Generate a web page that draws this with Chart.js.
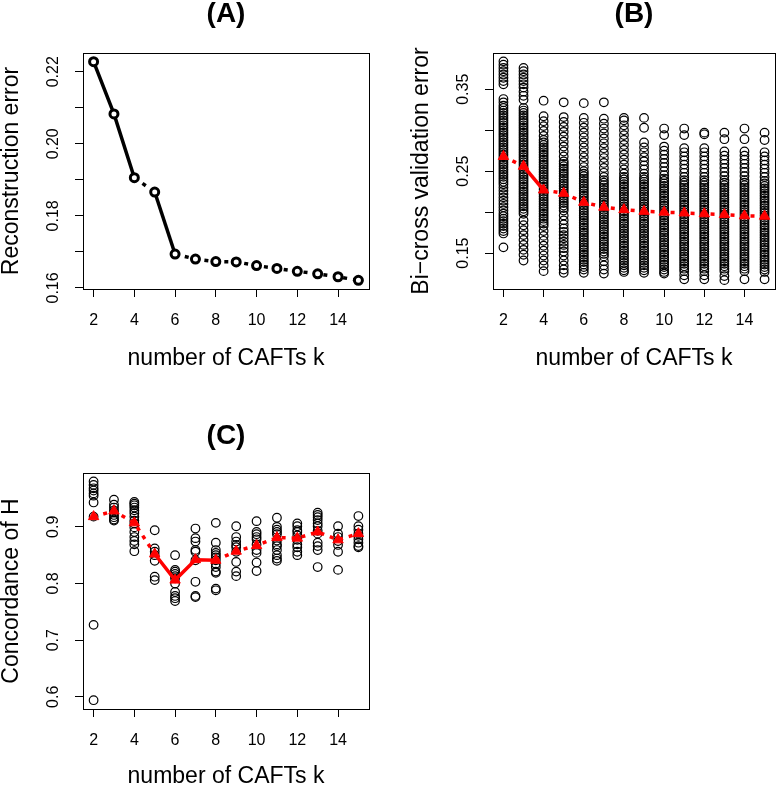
<!DOCTYPE html>
<html>
<head>
<meta charset="utf-8">
<script src="https://cdn.jsdelivr.net/npm/chart.js@4"></script>
<style>
  body { margin: 0; background: #fff; }
  canvas { position: absolute; }
</style>
</head>
<body>
<canvas id="chartA" width="391" height="394" style="left:0;top:0"></canvas>
<canvas id="chartB" width="391" height="394" style="left:391px;top:0"></canvas>
<canvas id="chartC" width="391" height="394" style="left:0;top:394px"></canvas>
<script>
var kValues = [2, 3, 4, 5, 6, 7, 8, 9, 10, 11, 12, 13, 14, 15];
var xTicks = [2, 4, 6, 8, 10, 12, 14];

// (A) reconstruction error
var reconError = [0.2228, 0.2083, 0.1906, 0.1866, 0.1694, 0.1680, 0.1673, 0.1672, 0.1662, 0.1654, 0.1646, 0.1639, 0.1631, 0.1621];
var aYTicks = [0.16, 0.17, 0.18, 0.19, 0.20, 0.21, 0.22];
var aYLabels = ['0.16', '', '0.18', '', '0.20', '', '0.22'];

// (B) bi-cross validation error, one list per k
var bcvMean = [0.268, 0.256, 0.227, 0.223, 0.212, 0.206, 0.203, 0.201, 0.200, 0.199, 0.198, 0.197, 0.1955, 0.195];
var bcvByK = [
  [0.384, 0.380, 0.376, 0.372, 0.368, 0.364, 0.360, 0.356, 0.338, 0.334, 0.330, 0.327, 0.324, 0.321, 0.318, 0.315, 0.312, 0.309, 0.306, 0.303, 0.300, 0.297, 0.294, 0.291, 0.288, 0.285, 0.282, 0.279, 0.276, 0.273, 0.270, 0.267, 0.264, 0.261, 0.258, 0.255, 0.252, 0.249, 0.246, 0.243, 0.240, 0.237, 0.234, 0.230, 0.226, 0.222, 0.218, 0.214, 0.210, 0.206, 0.202, 0.198, 0.195, 0.192, 0.189, 0.186, 0.183, 0.180, 0.177, 0.174, 0.157],
  [0.376, 0.372, 0.368, 0.364, 0.360, 0.356, 0.352, 0.347, 0.342, 0.337, 0.327, 0.324, 0.321, 0.318, 0.315, 0.312, 0.309, 0.306, 0.303, 0.300, 0.297, 0.294, 0.291, 0.288, 0.285, 0.282, 0.279, 0.276, 0.273, 0.270, 0.267, 0.264, 0.261, 0.258, 0.255, 0.252, 0.249, 0.246, 0.243, 0.240, 0.237, 0.234, 0.231, 0.228, 0.225, 0.222, 0.219, 0.216, 0.213, 0.210, 0.207, 0.204, 0.201, 0.198, 0.190, 0.184, 0.178, 0.172, 0.166, 0.160, 0.154, 0.148, 0.141],
  [0.336, 0.317, 0.311, 0.305, 0.299, 0.293, 0.288, 0.285, 0.282, 0.279, 0.276, 0.273, 0.270, 0.267, 0.264, 0.261, 0.258, 0.255, 0.252, 0.249, 0.246, 0.243, 0.240, 0.237, 0.234, 0.231, 0.228, 0.225, 0.222, 0.219, 0.216, 0.213, 0.210, 0.207, 0.204, 0.201, 0.198, 0.195, 0.192, 0.189, 0.186, 0.183, 0.177, 0.171, 0.165, 0.159, 0.153, 0.147, 0.141, 0.135, 0.128],
  [0.334, 0.316, 0.310, 0.304, 0.298, 0.292, 0.286, 0.280, 0.274, 0.268, 0.262, 0.259, 0.256, 0.253, 0.250, 0.247, 0.244, 0.241, 0.238, 0.235, 0.232, 0.229, 0.226, 0.223, 0.220, 0.217, 0.214, 0.211, 0.208, 0.205, 0.202, 0.196, 0.190, 0.185, 0.180, 0.176, 0.172, 0.168, 0.164, 0.160, 0.156, 0.152, 0.147, 0.141, 0.135, 0.130, 0.126],
  [0.333, 0.315, 0.309, 0.303, 0.297, 0.291, 0.285, 0.279, 0.273, 0.267, 0.261, 0.255, 0.250, 0.247, 0.244, 0.241, 0.238, 0.235, 0.232, 0.229, 0.226, 0.223, 0.220, 0.217, 0.214, 0.211, 0.208, 0.205, 0.202, 0.199, 0.196, 0.193, 0.190, 0.187, 0.184, 0.181, 0.178, 0.175, 0.172, 0.169, 0.166, 0.163, 0.160, 0.157, 0.154, 0.151, 0.148, 0.145, 0.142, 0.139, 0.136, 0.133, 0.130, 0.126],
  [0.334, 0.314, 0.308, 0.302, 0.296, 0.290, 0.284, 0.278, 0.272, 0.266, 0.260, 0.254, 0.248, 0.243, 0.239, 0.236, 0.233, 0.230, 0.227, 0.224, 0.221, 0.218, 0.215, 0.212, 0.209, 0.206, 0.203, 0.200, 0.197, 0.194, 0.191, 0.188, 0.185, 0.182, 0.179, 0.176, 0.173, 0.170, 0.167, 0.164, 0.161, 0.158, 0.155, 0.152, 0.149, 0.146, 0.140, 0.135, 0.130, 0.125],
  [0.315, 0.312, 0.306, 0.300, 0.294, 0.288, 0.282, 0.276, 0.270, 0.264, 0.258, 0.252, 0.247, 0.243, 0.240, 0.237, 0.234, 0.231, 0.228, 0.225, 0.222, 0.219, 0.216, 0.213, 0.210, 0.207, 0.204, 0.201, 0.198, 0.195, 0.192, 0.189, 0.186, 0.183, 0.180, 0.177, 0.174, 0.171, 0.168, 0.165, 0.162, 0.159, 0.156, 0.153, 0.150, 0.147, 0.144, 0.141, 0.138, 0.135, 0.132, 0.129, 0.127],
  [0.315, 0.303, 0.285, 0.279, 0.273, 0.267, 0.262, 0.257, 0.252, 0.247, 0.243, 0.240, 0.237, 0.234, 0.231, 0.228, 0.225, 0.222, 0.219, 0.216, 0.213, 0.210, 0.207, 0.204, 0.201, 0.198, 0.195, 0.192, 0.189, 0.186, 0.183, 0.180, 0.177, 0.174, 0.171, 0.168, 0.165, 0.162, 0.159, 0.156, 0.153, 0.150, 0.147, 0.144, 0.141, 0.138, 0.135, 0.132, 0.129, 0.126],
  [0.302, 0.294, 0.280, 0.275, 0.270, 0.265, 0.260, 0.255, 0.250, 0.245, 0.241, 0.238, 0.235, 0.232, 0.229, 0.226, 0.223, 0.220, 0.217, 0.214, 0.211, 0.208, 0.205, 0.202, 0.199, 0.196, 0.193, 0.190, 0.187, 0.184, 0.181, 0.178, 0.175, 0.172, 0.169, 0.166, 0.163, 0.160, 0.157, 0.154, 0.151, 0.148, 0.145, 0.142, 0.139, 0.136, 0.133, 0.130, 0.127, 0.125],
  [0.302, 0.294, 0.278, 0.273, 0.268, 0.263, 0.258, 0.253, 0.248, 0.243, 0.239, 0.236, 0.233, 0.230, 0.227, 0.224, 0.221, 0.218, 0.215, 0.212, 0.209, 0.206, 0.203, 0.200, 0.197, 0.194, 0.191, 0.188, 0.185, 0.182, 0.179, 0.176, 0.173, 0.170, 0.167, 0.164, 0.161, 0.158, 0.155, 0.152, 0.149, 0.146, 0.143, 0.140, 0.137, 0.134, 0.131, 0.128, 0.123, 0.118],
  [0.297, 0.295, 0.278, 0.273, 0.268, 0.263, 0.258, 0.253, 0.248, 0.243, 0.239, 0.236, 0.233, 0.230, 0.227, 0.224, 0.221, 0.218, 0.215, 0.212, 0.209, 0.206, 0.203, 0.200, 0.197, 0.194, 0.191, 0.188, 0.185, 0.182, 0.179, 0.176, 0.173, 0.170, 0.167, 0.164, 0.161, 0.158, 0.155, 0.152, 0.149, 0.146, 0.143, 0.140, 0.137, 0.134, 0.131, 0.128, 0.123, 0.118],
  [0.297, 0.289, 0.274, 0.269, 0.264, 0.259, 0.254, 0.249, 0.244, 0.239, 0.236, 0.233, 0.230, 0.227, 0.224, 0.221, 0.218, 0.215, 0.212, 0.209, 0.206, 0.203, 0.200, 0.197, 0.194, 0.191, 0.188, 0.185, 0.182, 0.179, 0.176, 0.173, 0.170, 0.167, 0.164, 0.161, 0.158, 0.155, 0.152, 0.149, 0.146, 0.143, 0.140, 0.137, 0.134, 0.131, 0.128, 0.122, 0.117],
  [0.302, 0.289, 0.274, 0.269, 0.264, 0.259, 0.254, 0.249, 0.244, 0.239, 0.236, 0.233, 0.230, 0.227, 0.224, 0.221, 0.218, 0.215, 0.212, 0.209, 0.206, 0.203, 0.200, 0.197, 0.194, 0.191, 0.188, 0.185, 0.182, 0.179, 0.176, 0.173, 0.170, 0.167, 0.164, 0.161, 0.158, 0.155, 0.152, 0.149, 0.146, 0.143, 0.140, 0.137, 0.134, 0.131, 0.128, 0.118],
  [0.297, 0.288, 0.273, 0.268, 0.263, 0.258, 0.253, 0.248, 0.243, 0.238, 0.235, 0.232, 0.229, 0.226, 0.223, 0.220, 0.217, 0.214, 0.211, 0.208, 0.205, 0.202, 0.199, 0.196, 0.193, 0.190, 0.187, 0.184, 0.181, 0.178, 0.175, 0.172, 0.169, 0.166, 0.163, 0.160, 0.157, 0.154, 0.151, 0.148, 0.145, 0.142, 0.139, 0.136, 0.133, 0.130, 0.127, 0.118]
];
var bYTicks = [0.15, 0.20, 0.25, 0.30, 0.35];
var bYLabels = ['0.15', '', '0.25', '', '0.35'];

// (C) concordance of H, one list per k
var concMean = [0.918, 0.928, 0.907, 0.852, 0.806, 0.842, 0.841, 0.857, 0.867, 0.881, 0.880, 0.891, 0.877, 0.888];
var concByK = [
  [0.980, 0.974, 0.968, 0.964, 0.959, 0.955, 0.943, 0.918, 0.727, 0.594],
  [0.948, 0.939, 0.934, 0.929, 0.925, 0.921, 0.917, 0.913, 0.911],
  [0.944, 0.941, 0.938, 0.934, 0.929, 0.924, 0.918, 0.911, 0.906, 0.899, 0.891, 0.882, 0.875, 0.869, 0.857],
  [0.894, 0.862, 0.856, 0.850, 0.840, 0.812, 0.806],
  [0.850, 0.824, 0.821, 0.817, 0.813, 0.809, 0.800, 0.785, 0.778, 0.774, 0.769],
  [0.897, 0.880, 0.874, 0.859, 0.856, 0.841, 0.803, 0.778, 0.776],
  [0.907, 0.872, 0.859, 0.854, 0.850, 0.846, 0.841, 0.835, 0.829, 0.821, 0.819, 0.791, 0.788],
  [0.901, 0.882, 0.874, 0.868, 0.864, 0.856, 0.838, 0.821, 0.813],
  [0.910, 0.891, 0.887, 0.882, 0.878, 0.869, 0.859, 0.854, 0.837, 0.822],
  [0.916, 0.900, 0.895, 0.891, 0.887, 0.876, 0.869, 0.866, 0.859, 0.850, 0.844, 0.840],
  [0.906, 0.901, 0.894, 0.891, 0.885, 0.877, 0.869, 0.864, 0.856, 0.850],
  [0.925, 0.921, 0.917, 0.912, 0.906, 0.901, 0.893, 0.888, 0.872, 0.866, 0.859, 0.829],
  [0.901, 0.888, 0.882, 0.875, 0.868, 0.856, 0.824],
  [0.919, 0.901, 0.895, 0.888, 0.884, 0.878, 0.872, 0.866, 0.864]
];
var cYTicks = [0.6, 0.7, 0.8, 0.9];
var cYLabels = ['0.6', '0.7', '0.8', '0.9'];

// segments (by starting point index) drawn solid instead of dotted
var solidA = [0, 1, 3];
var solidB = [1];
var solidC = [3, 4, 5];

var FONT = "'Liberation Sans', Arial, Helvetica, sans-serif";
Chart.defaults.font.family = FONT;
Chart.defaults.color = '#000';

// R style box round the plot and vertical y tick labels
var rBox = {
  id: 'rBox',
  afterDraw: function(chart, args, opts) {
    var ctx = chart.ctx, a = chart.chartArea, y = chart.scales.y;
    ctx.save();
    ctx.strokeStyle = '#000';
    ctx.lineWidth = 1;
    ctx.strokeRect(Math.round(a.left) + 0.5, Math.round(a.top) + 0.5,
                   Math.round(a.right - a.left), Math.round(a.bottom - a.top));
    ctx.font = '16px ' + FONT;
    ctx.fillStyle = '#000';
    ctx.textAlign = 'center';
    ctx.textBaseline = 'middle';
    opts.ticks.forEach(function(v, i) {
      if (!opts.labels[i]) return;
      ctx.save();
      ctx.translate(a.left - opts.offset, y.getPixelForValue(v));
      ctx.rotate(-Math.PI / 2);
      ctx.fillText(opts.labels[i], 0, 0);
      ctx.restore();
    });
    ctx.restore();
  }
};

function points(values) {
  return kValues.map(function(k, i) { return { x: k, y: values[i] }; });
}

function cloud(cols) {
  var out = [];
  cols.forEach(function(col, i) {
    col.forEach(function(v) { out.push({ x: kValues[i], y: v }); });
  });
  return out;
}

function dashFor(solid) {
  return function(ctx) { return solid.indexOf(ctx.p0DataIndex) >= 0 ? [] : undefined; };
}

function meanLine(values, solid) {
  return {
    data: points(values), showLine: true, order: 0,
    borderColor: '#ff0000', borderWidth: 3.5, borderDash: [4, 6],
    pointStyle: 'triangle', pointRadius: 6,
    pointBackgroundColor: '#ff0000', pointBorderColor: '#ff0000', pointBorderWidth: 1,
    segment: { borderDash: dashFor(solid) }
  };
}

function circles(cols) {
  return {
    data: cloud(cols), order: 1,
    pointRadius: 4.3, pointBorderWidth: 1.2,
    pointBorderColor: '#000', pointBackgroundColor: 'rgba(0,0,0,0)'
  };
}

function makeChart(id, p) {
  var grid = { drawOnChartArea: false, drawTicks: true, tickLength: 8, color: '#000', lineWidth: 1 };
  return new Chart(document.getElementById(id), {
    type: 'scatter',
    data: { datasets: p.datasets },
    plugins: [rBox],
    options: {
      responsive: false,
      animation: false,
      events: [],
      layout: { padding: { left: 0, right: p.padRight, top: 0, bottom: 0 } },
      plugins: {
        legend: { display: false },
        tooltip: { enabled: false },
        title: {
          display: true, text: p.title, fullSize: false, color: '#000',
          font: { size: 28, weight: 'bold', lineHeight: 1 },
          padding: { top: p.titleTop, bottom: p.titleBottom }
        },
        rBox: { ticks: p.yTicks, labels: p.yLabels, offset: 29 }
      },
      scales: {
        x: {
          type: 'linear', min: 1.48, max: 15.52,
          afterBuildTicks: function(s) { s.ticks = xTicks.map(function(v) { return { value: v }; }); },
          afterFit: function(s) { s.height = p.xHeight; },
          grid: grid,
          border: { display: false },
          ticks: { font: { size: 16 }, padding: 14, color: '#000', maxRotation: 0, autoSkip: false },
          title: {
            display: true, text: 'number of CAFTs k', color: '#000',
            font: { size: 23, lineHeight: 1 }, padding: { top: 0, bottom: p.xTitleBottom }
          }
        },
        y: {
          type: 'linear', min: p.yMin, max: p.yMax,
          afterBuildTicks: function(s) { s.ticks = p.yTicks.map(function(v) { return { value: v }; }); },
          afterFit: function(s) { s.width = p.yWidth; },
          grid: grid,
          border: { display: false },
          ticks: { display: false },
          title: {
            display: true, text: p.yTitle, color: '#000',
            font: { size: 23, lineHeight: 1 }, padding: { top: p.yTitlePad, bottom: 0 }
          }
        }
      }
    }
  });
}

var chartA = makeChart('chartA', {
  title: '(A)', yTitle: 'Reconstruction error',
  yMin: 0.1597, yMax: 0.2252, yTicks: aYTicks, yLabels: aYLabels,
  titleTop: 0, titleBottom: 25, xHeight: 105, xTitleBottom: 24,
  yWidth: 83, yTitlePad: 0.5, padRight: 22,
  datasets: [{
    data: points(reconError), showLine: true,
    borderColor: '#000', borderWidth: 3.5, borderDash: [4, 6],
    pointRadius: 4, pointBorderWidth: 3,
    pointBorderColor: '#000', pointBackgroundColor: '#fff',
    segment: { borderDash: dashFor(solidA) }
  }]
});

var chartB = makeChart('chartB', {
  title: '(B)', yTitle: 'Bi\u2212cross validation error',
  yMin: 0.1062, yMax: 0.3942, yTicks: bYTicks, yLabels: bYLabels,
  titleTop: 0, titleBottom: 25, xHeight: 105, xTitleBottom: 24,
  yWidth: 102, yTitlePad: 19, padRight: 2,
  datasets: [meanLine(bcvMean, solidB), circles(bcvByK)]
});

var chartC = makeChart('chartC', {
  title: '(C)', yTitle: 'Concordance of H',
  yMin: 0.5785, yMax: 0.9950, yTicks: cYTicks, yLabels: cYLabels,
  titleTop: 28.5, titleBottom: 22.5, xHeight: 79, xTitleBottom: 0,
  yWidth: 83, yTitlePad: 0.5, padRight: 22,
  datasets: [meanLine(concMean, solidC), circles(concByK)]
});
</script>
</body>
</html>
